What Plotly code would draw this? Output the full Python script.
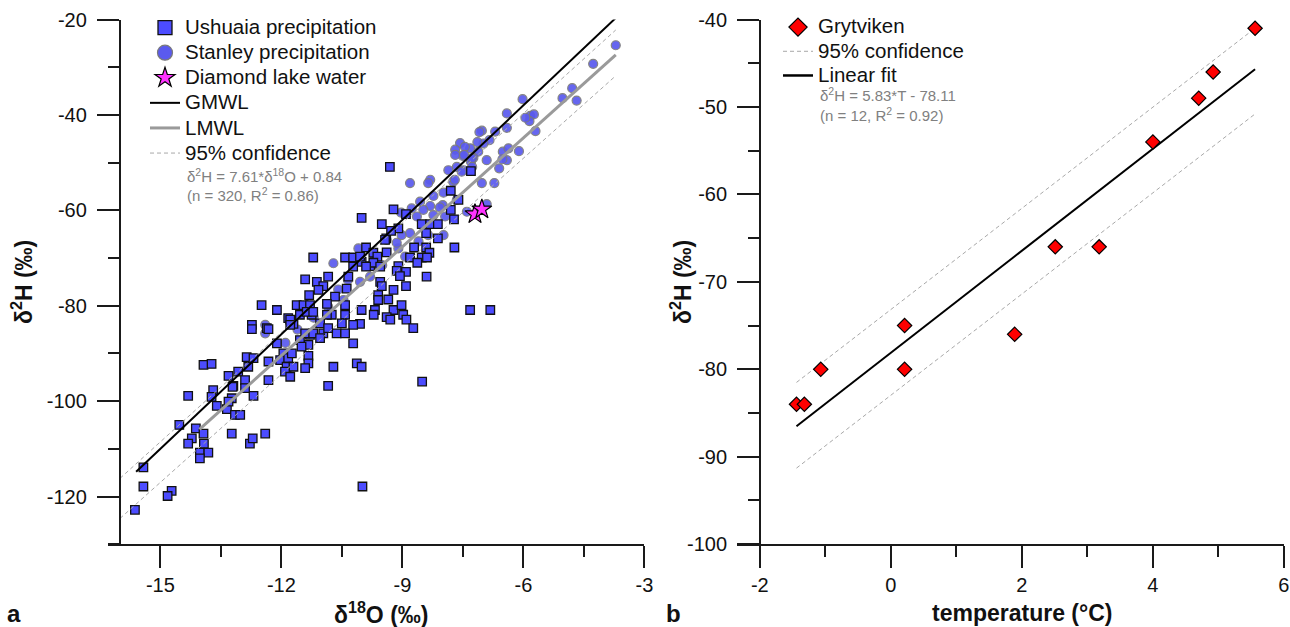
import plotly.graph_objects as go

# ---------------- Panel a : precipitation isotopes ----------------
ushuaia_d18O = [
    -7.30, -9.31, -7.80, -7.61, -7.80, -7.72, -9.22, -8.91, -10.01, -9.51, -9.10, -8.52, -8.31, -8.12,
    -8.41, -9.40, -8.12, -7.71, -8.71, -8.41, -9.90, -10.42, -10.22, -9.72, -8.81, -8.52, -8.33, -8.63,
    -10.01, -9.80, -9.10, -9.62, -9.28, -9.43, -9.39, -11.21, -10.05, -9.72, -8.39, -10.22, -9.90, -9.55,
    -9.14, -8.91, -9.06, -8.40, -11.41, -11.12, -10.84, -10.34, -10.96, -11.08, -9.55, -9.22, -8.91, -9.51,
    -11.31, -10.67, -10.38, -9.60, -9.35, -9.60, -11.62, -11.41, -10.87, -10.42, -12.11, -12.49, -10.01,
    -9.68, -9.22, -9.02, -11.25, -10.75, -10.42, -11.83, -11.54, -9.39, -9.30, -8.98, -8.90, -9.71,
    -12.36, -11.70, -11.04, -10.50, -10.05, -8.73, -10.96, -10.63, -11.29, -12.11, -11.33, -10.22, -11.54,
    -11.45, -11.29, -11.37, -11.21, -11.78, -10.87, -12.73, -12.73, -12.32, -11.78, -11.41, -11.21, -10.84,
    -11.04, -11.95, -12.03, -11.83, -11.74, -11.87, -11.70, -11.33, -11.33, -11.41, -11.91, -11.78, -10.71,
    -10.84, -10.22, -10.13, -10.01, -12.86, -12.69, -12.32, -13.07, -12.82, -13.31, -12.90, -12.32, -13.19,
    -12.69, -13.69, -13.73, -13.23, -13.35, -13.15, -13.02, -13.60, -14.31, -13.93, -13.73, -14.12, -14.22,
    -13.93, -13.92, -14.31, -13.23, -12.78, -12.71, -12.40, -11.50, -10.42, -13.31, -13.21, -12.90, -14.53,
    -14.02, -13.81, -14.02, -15.42, -15.42, -14.72, -14.82, -15.63, -9.99, -7.32, -6.82, -8.51,
]
ushuaia_d2H = [
    -51.8, -50.9, -55.9, -57.8, -59.9, -61.9, -59.8, -60.8, -61.6, -62.9, -63.8, -62.9, -62.9, -62.9,
    -64.8, -65.9, -65.9, -67.8, -67.8, -67.8, -67.8, -69.9, -69.9, -68.9, -69.9, -69.9, -68.9, -71.0,
    -70.8, -71.7, -71.7, -69.7, -64.3, -66.2, -68.8, -69.9, -69.7, -71.0, -69.9, -71.8, -71.8, -71.8,
    -72.7, -72.9, -73.8, -73.9, -74.5, -75.0, -73.9, -73.9, -75.9, -76.7, -75.0, -76.7, -75.9, -75.9,
    -77.8, -78.1, -76.4, -77.8, -78.7, -78.8, -79.9, -80.9, -79.6, -79.9, -80.9, -79.9, -80.9,
    -80.9, -80.9, -79.9, -81.9, -81.9, -81.9, -82.6, -81.9, -82.4, -82.9, -81.9, -82.9, -81.9,
    -84.7, -83.8, -83.7, -83.7, -83.8, -84.7, -85.8, -85.8, -86.1, -87.9, -88.2, -87.9, -87.2,
    -79.9, -79.9, -81.3, -81.3, -82.9, -81.9, -84.0, -84.9, -84.9, -84.0, -85.8, -85.8, -84.7,
    -86.8, -90.0, -91.4, -91.0, -90.0, -92.8, -92.8, -90.5, -92.1, -93.1, -93.8, -94.9, -92.8,
    -96.8, -84.0, -92.1, -92.8, -90.8, -91.0, -91.7, -93.8, -92.8, -94.7, -95.6, -95.6, -96.8,
    -98.9, -97.7, -99.1, -99.4, -101.7, -102.9, -102.9, -101.0, -98.9, -92.4, -92.2, -105.7, -107.8,
    -106.8, -108.9, -108.9, -106.8, -108.9, -107.8, -106.8, -88.6, -85.8, -100.1, -97.0, -97.3, -105.0,
    -110.8, -110.8, -112.0, -113.9, -117.9, -118.8, -119.9, -122.8, -117.9, -80.9, -80.9, -95.9,
]

stanley_d18O = [
    -3.71, -4.27, -4.79, -5.03, -4.68, -6.02, -6.41, -5.83, -5.74, -5.85, -5.95, -6.41, -5.70, -6.70,
    -7.03, -7.09, -6.84, -6.99, -7.14, -7.57, -7.69, -7.32, -7.12, -7.50, -7.24, -6.91, -6.51, -6.37,
    -6.11, -6.41, -6.60, -7.30, -7.65, -7.49, -7.86, -7.45, -7.69, -7.47, -7.28, -7.53, -7.27, -6.52,
    -7.03, -6.72, -7.74, -7.70, -8.31, -8.36, -8.81, -7.98, -8.23, -8.00, -8.56, -8.31, -8.07, -8.48,
    -8.77, -8.64, -8.23, -7.94, -7.65, -7.40, -6.91, -9.03, -8.81, -9.02, -9.10, -9.39, -9.14, -10.09,
    -7.98, -8.36, -8.93, -10.71, -12.40, -12.40, -10.59, -10.05, -9.80, -10.46, -10.84, -10.35, -11.90,
    -9.50, -11.20, -11.60, -8.60, -9.70,
]
stanley_d2H = [
    -25.4, -29.3, -34.4, -36.5, -37.0, -36.7, -39.7, -40.2, -39.9, -41.3, -40.6, -42.7, -43.4, -43.5,
    -43.3, -43.6, -45.3, -46.0, -45.7, -45.9, -47.3, -47.0, -47.7, -48.6, -49.0, -49.5, -47.7, -47.0,
    -47.6, -49.5, -51.2, -49.8, -50.9, -51.6, -51.6, -46.7, -48.4, -48.4, -49.1, -51.9, -50.9, -49.3,
    -54.3, -54.3, -54.0, -53.6, -53.6, -54.3, -54.3, -56.3, -57.0, -58.9, -58.2, -59.1, -59.4, -59.9,
    -59.6, -61.3, -61.0, -61.3, -57.8, -60.3, -58.7, -60.5, -64.8, -65.2, -68.0, -66.2, -66.8, -68.0,
    -65.2, -65.2, -69.7, -71.1, -84.0, -85.8, -76.6, -75.0, -73.9, -78.8, -80.2, -74.6, -87.8,
    -71.5, -82.5, -85.0, -66.5, -70.5,
]

lake_d18O = [-7.20, -7.03]
lake_d2H = [-60.8, -59.8]

# regression / reference lines (end points of each drawn segment)
gmwl_x = [-15.6, -3.71]
gmwl_slope, gmwl_intercept = 8.0, 10.0
lmwl_x = [-14.03, -3.71]
lmwl_slope, lmwl_intercept = 7.61, 0.84
conf_a_x = [-16.0, -3.71]
conf_a_upper = [-116.2, -22.2]
conf_a_lower = [-124.6, -31.8]

# tick labels (hyphen minus as in the original)
a_xticks = [-15, -12, -9, -6, -3]
a_xticklabels = ['-15', '-12', '-9', '-6', '-3']
a_yticks = [-120, -100, -80, -60, -40, -20]
a_yticklabels = ['-120', '-100', '-80', '-60', '-40', '-20']

# ---------------- Panel b : Grytviken ----------------
gryt_T = [-1.44, -1.32, -1.07, 0.21, 0.21, 1.89, 2.51, 3.18, 4.00, 4.70, 4.92, 5.56]
gryt_d2H = [-84, -84, -80, -75, -80, -76, -66, -66, -54, -49, -46, -41]
fit_b_x = [-1.44, 5.56]
fit_b_slope, fit_b_intercept = 5.83, -78.11
conf_b_x = [-1.44, 5.56]
conf_b_upper = [-81.5, -41.0]
conf_b_lower = [-91.3, -50.8]

b_xticks = [-2, 0, 2, 4, 6]
b_xticklabels = ['-2', '0', '2', '4', '6']
b_yticks = [-100, -90, -80, -70, -60, -50, -40]
b_yticklabels = ['-100', '-90', '-80', '-70', '-60', '-50', '-40']

# ---------------- styling ----------------
W, H = 1290, 627
FONT = "Arial, 'Liberation Sans', sans-serif"
AX = '#1a1a1a'
SQ_FILL = '#4c4cff'
CI_FILL = '#5a5aee'
STAR_FILL = '#ff33ff'
DIA_FILL = '#ff0000'
GRAY_LINE = '#9a9a9a'
DASH_LINE = '#a8a8a8'
EQ_GRAY = '#808080'


def px(xp):
    return xp / W


def py(yp):
    return 1 - yp / H


fig = go.Figure()

# panel a data
fig.add_trace(go.Scatter(x=stanley_d18O, y=stanley_d2H, mode='markers', xaxis='x', yaxis='y',
                         marker=dict(symbol='circle', size=9, color=CI_FILL, opacity=0.92,
                                     line=dict(color='#7a7a7a', width=1.2)),
                         showlegend=False, hoverinfo='skip'))
fig.add_trace(go.Scatter(x=ushuaia_d18O, y=ushuaia_d2H, mode='markers', xaxis='x', yaxis='y',
                         marker=dict(symbol='square', size=8.5, color=SQ_FILL,
                                     line=dict(color='#111111', width=1.3)),
                         showlegend=False, hoverinfo='skip'))
for yy in (conf_a_upper, conf_a_lower):
    fig.add_trace(go.Scatter(x=conf_a_x, y=yy, mode='lines', xaxis='x', yaxis='y',
                             line=dict(color=DASH_LINE, width=1, dash='4px,3px'),
                             showlegend=False, hoverinfo='skip'))
fig.add_trace(go.Scatter(x=gmwl_x, y=[gmwl_slope * v + gmwl_intercept for v in gmwl_x], mode='lines',
                         xaxis='x', yaxis='y', line=dict(color='#000000', width=2),
                         showlegend=False, hoverinfo='skip'))
fig.add_trace(go.Scatter(x=lmwl_x, y=[lmwl_slope * v + lmwl_intercept for v in lmwl_x], mode='lines',
                         xaxis='x', yaxis='y', line=dict(color=GRAY_LINE, width=3),
                         showlegend=False, hoverinfo='skip'))
fig.add_trace(go.Scatter(x=lake_d18O, y=lake_d2H, mode='markers', xaxis='x', yaxis='y',
                         marker=dict(symbol='star', size=15, color=STAR_FILL,
                                     line=dict(color='#000000', width=1.2)),
                         showlegend=False, hoverinfo='skip'))

# panel b data
for yy in (conf_b_upper, conf_b_lower):
    fig.add_trace(go.Scatter(x=conf_b_x, y=yy, mode='lines', xaxis='x2', yaxis='y2',
                             line=dict(color=DASH_LINE, width=1, dash='4px,3px'),
                             showlegend=False, hoverinfo='skip'))
fig.add_trace(go.Scatter(x=fit_b_x, y=[fit_b_slope * v + fit_b_intercept for v in fit_b_x], mode='lines',
                         xaxis='x2', yaxis='y2', line=dict(color='#000000', width=2),
                         showlegend=False, hoverinfo='skip'))
fig.add_trace(go.Scatter(x=gryt_T, y=gryt_d2H, mode='markers', xaxis='x2', yaxis='y2',
                         marker=dict(symbol='diamond', size=11, color=DIA_FILL,
                                     line=dict(color='#000000', width=1.2)),
                         showlegend=False, hoverinfo='skip'))


def lg(name):
    return '<span style="font-size:20.5px">' + name + '</span>'


# legend entries (panel a)
legA = [
    dict(name='Ushuaia precipitation', mode='markers',
         marker=dict(symbol='square', size=14, color=SQ_FILL, line=dict(color='#111111', width=1.3))),
    dict(name='Stanley precipitation', mode='markers',
         marker=dict(symbol='circle', size=15, color=CI_FILL, line=dict(color='#7a7a7a', width=1.2))),
    dict(name='Diamond lake water', mode='markers',
         marker=dict(symbol='star', size=15, color=STAR_FILL, line=dict(color='#000000', width=1.2))),
    dict(name='GMWL', mode='lines', line=dict(color='#000000', width=2)),
    dict(name='LMWL', mode='lines', line=dict(color=GRAY_LINE, width=3)),
    dict(name='95% confidence', mode='lines', line=dict(color=DASH_LINE, width=1, dash='4px,3px')),
]
for i, e in enumerate(legA):
    nm = e.pop('name')
    fig.add_trace(go.Scatter(x=[None], y=[None], xaxis='x', yaxis='y', name=lg(nm), legend='legend',
                             legendrank=i + 1, showlegend=True, **e))

legB = [
    dict(name='Grytviken', mode='markers',
         marker=dict(symbol='diamond', size=14, color=DIA_FILL, line=dict(color='#000000', width=1.2))),
    dict(name='95% confidence', mode='lines', line=dict(color=DASH_LINE, width=1, dash='4px,3px')),
    dict(name='Linear fit', mode='lines', line=dict(color='#000000', width=2.5)),
]
for i, e in enumerate(legB):
    nm = e.pop('name')
    fig.add_trace(go.Scatter(x=[None], y=[None], xaxis='x2', yaxis='y2', name=lg(nm), legend='legend2',
                             legendrank=i + 1, showlegend=True, **e))

tickfont = dict(family=FONT, size=20, color='#111111')
common = dict(showline=True, linecolor=AX, linewidth=1.5, ticks='outside', ticklen=22, tickwidth=1.5,
              tickcolor=AX, showgrid=False, zeroline=False, tickfont=tickfont, tickmode='array',
              ticklabeloverflow='allow')

ydom = [py(544.2), py(19.5)]
fig.update_layout(
    width=W, height=H, margin=dict(l=0, r=0, t=0, b=0, autoexpand=False),
    paper_bgcolor='white', plot_bgcolor='white',
    font=dict(family=FONT, color='#111111'),
    xaxis=dict(domain=[px(107.7), px(644.4)], range=[-16.305, -3], anchor='y',
               tickvals=a_xticks, ticktext=a_xticklabels,
               minor=dict(tickmode='linear', tick0=-15, dtick=1.5, ticklen=11, tickwidth=1.5,
                          tickcolor=AX, ticks='outside'),
               ticklabelstandoff=0, **common),
    yaxis=dict(domain=ydom, range=[-130, -20], anchor='free', position=px(119.6),
               tickvals=a_yticks, ticktext=a_yticklabels,
               minor=dict(tickmode='linear', tick0=-20, dtick=10, ticklen=11, tickwidth=1.5,
                          tickcolor=AX, ticks='outside'),
               ticklabelstandoff=6, **common),
    xaxis2=dict(domain=[px(737.4), px(1283.9)], range=[-2.342, 6], anchor='y2',
                tickvals=b_xticks, ticktext=b_xticklabels,
                minor=dict(tickmode='linear', tick0=0, dtick=1, ticklen=11, tickwidth=1.5,
                           tickcolor=AX, ticks='outside'),
                ticklabelstandoff=0, **common),
    yaxis2=dict(domain=ydom, range=[-100, -40], anchor='free', position=px(759.8),
                tickvals=b_yticks, ticktext=b_yticklabels,
                minor=dict(tickmode='linear', tick0=-40, dtick=5, ticklen=11, tickwidth=1.5,
                           tickcolor=AX, ticks='outside'),
                ticklabelstandoff=6, **common),
    legend=dict(x=px(145), y=py(10), xanchor='left', yanchor='top', bgcolor='rgba(0,0,0,0)',
                borderwidth=0, font=dict(family=FONT, size=17, color='#111111'), traceorder='normal',
                itemclick=False, itemdoubleclick=False),
    legend2=dict(x=px(778), y=py(10), xanchor='left', yanchor='top', bgcolor='rgba(0,0,0,0)',
                 borderwidth=0, font=dict(family=FONT, size=16.3, color='#111111'), traceorder='normal',
                 itemclick=False, itemdoubleclick=False),
    showlegend=True,
)

ann = []
eq_font = dict(family=FONT, size=15, color=EQ_GRAY)
ann.append(dict(text='δ<sup>2</sup>H = 7.61*δ<sup>18</sup>O + 0.84', x=px(185), y=py(175.7), xref='paper',
                yref='paper', xanchor='left', yanchor='middle', showarrow=False, font=eq_font))
ann.append(dict(text='(n = 320, R<sup>2</sup> = 0.86)', x=px(185), y=py(194), xref='paper',
                yref='paper', xanchor='left', yanchor='middle', showarrow=False, font=eq_font))
ann.append(dict(text='δ<sup>2</sup>H = 5.83*T - 78.11', x=px(818), y=py(95), xref='paper',
                yref='paper', xanchor='left', yanchor='middle', showarrow=False, font=eq_font))
ann.append(dict(text='(n = 12, R<sup>2</sup> = 0.92)', x=px(818), y=py(114.5), xref='paper',
                yref='paper', xanchor='left', yanchor='middle', showarrow=False, font=eq_font))

title_font = dict(family=FONT, size=23, color='#111111')
ann.append(dict(text='<b>δ<sup>18</sup>O (‰)</b>', x=px(381), y=py(613), xref='paper', yref='paper',
                xanchor='center', yanchor='middle', showarrow=False, font=title_font))
ann.append(dict(text='<b>temperature (°C)</b>', x=px(1021.5), y=py(613), xref='paper', yref='paper',
                xanchor='center', yanchor='middle', showarrow=False, font=title_font))
ann.append(dict(text='<b>δ<sup>2</sup>H (‰)</b>', x=px(22), y=py(282), xref='paper', yref='paper',
                xanchor='center', yanchor='middle', showarrow=False, textangle=-90, font=title_font))
ann.append(dict(text='<b>δ<sup>2</sup>H (‰)</b>', x=px(681), y=py(282), xref='paper', yref='paper',
                xanchor='center', yanchor='middle', showarrow=False, textangle=-90, font=title_font))
ann.append(dict(text='<b>a</b>', x=px(14), y=py(613), xref='paper', yref='paper',
                xanchor='center', yanchor='middle', showarrow=False,
                font=dict(family=FONT, size=24, color='#111111')))
ann.append(dict(text='<b>b</b>', x=px(674), y=py(613), xref='paper', yref='paper',
                xanchor='center', yanchor='middle', showarrow=False,
                font=dict(family=FONT, size=24, color='#111111')))
fig.update_layout(annotations=ann)

# remove the browser's default 8px body margin so the figure sits at the page origin
fig.write_html("out.html", config=dict(displayModeBar=False),
               post_script="document.body.style.margin='0';document.body.style.overflow='hidden';")
